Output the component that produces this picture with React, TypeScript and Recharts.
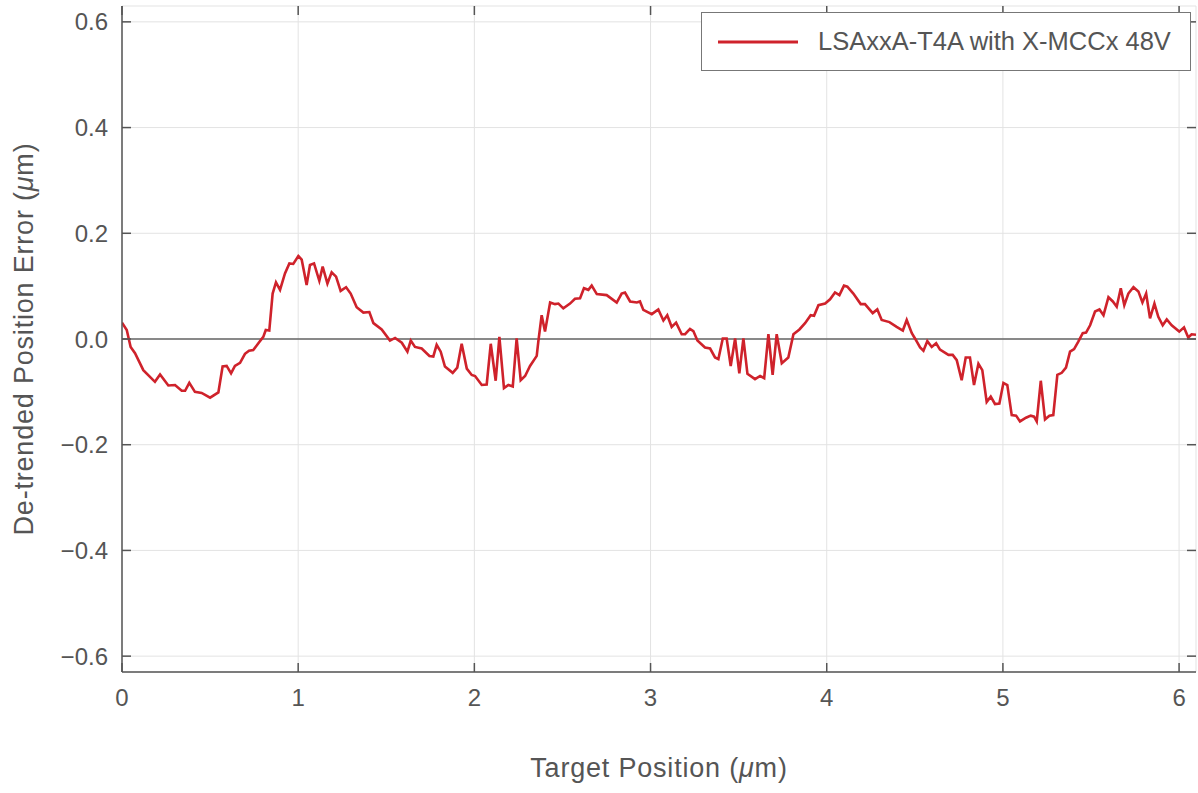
import React from 'react';
import { LineChart, Line, XAxis, YAxis, CartesianGrid, ReferenceLine, Legend, Label } from 'recharts';

const positions = [
  0, 0.027, 0.049, 0.074, 0.121, 0.187, 0.216, 0.263, 0.301, 0.339, 0.358, 0.382, 0.414, 0.452, 0.5,
  0.547, 0.571, 0.594, 0.619, 0.641, 0.67, 0.698, 0.721, 0.745, 0.774, 0.802, 0.816, 0.836, 0.855, 0.874,
  0.897, 0.925, 0.95, 0.972, 1.001, 1.02, 1.048, 1.067, 1.09, 1.12, 1.139, 1.166, 1.19, 1.215, 1.241,
  1.272, 1.298, 1.332, 1.37, 1.404, 1.427, 1.474, 1.521, 1.55, 1.588, 1.62, 1.639, 1.663, 1.701, 1.745,
  1.767, 1.786, 1.809, 1.833, 1.877, 1.903, 1.928, 1.957, 1.985, 2.004, 2.042, 2.07, 2.093, 2.121, 2.142,
  2.168, 2.193, 2.218, 2.24, 2.263, 2.288, 2.316, 2.354, 2.363, 2.382, 2.401, 2.43, 2.458, 2.477, 2.505,
  2.543, 2.571, 2.6, 2.622, 2.647, 2.666, 2.695, 2.751, 2.78, 2.808, 2.836, 2.855, 2.884, 2.922, 2.94,
  2.959, 3.007, 3.044, 3.073, 3.095, 3.12, 3.145, 3.177, 3.196, 3.224, 3.243, 3.266, 3.309, 3.338, 3.366,
  3.385, 3.41, 3.432, 3.455, 3.48, 3.504, 3.527, 3.55, 3.593, 3.622, 3.645, 3.669, 3.693, 3.716, 3.745,
  3.782, 3.811, 3.845, 3.877, 3.909, 3.928, 3.953, 3.991, 4.019, 4.047, 4.072, 4.098, 4.117, 4.151, 4.193,
  4.217, 4.261, 4.287, 4.312, 4.356, 4.397, 4.432, 4.454, 4.483, 4.501, 4.53, 4.549, 4.571, 4.596, 4.621,
  4.643, 4.691, 4.715, 4.738, 4.766, 4.789, 4.813, 4.836, 4.861, 4.883, 4.908, 4.931, 4.955, 4.98, 5.003,
  5.025, 5.05, 5.075, 5.097, 5.131, 5.158, 5.177, 5.192, 5.215, 5.239, 5.264, 5.286, 5.309, 5.334, 5.358,
  5.381, 5.404, 5.428, 5.453, 5.472, 5.495, 5.523, 5.548, 5.571, 5.599, 5.624, 5.646, 5.669, 5.689, 5.712,
  5.741, 5.769, 5.792, 5.813, 5.835, 5.86, 5.882, 5.907, 5.93, 5.958, 6.001, 6.028, 6.052, 6.071, 6.096,
];

const errors = [
  0.031, 0.017, -0.015, -0.027, -0.059, -0.081, -0.067, -0.088, -0.087, -0.098, -0.098, -0.083, -0.1, -0.102, -0.111,
  -0.101, -0.052, -0.051, -0.065, -0.051, -0.045, -0.028, -0.022, -0.021, -0.008, 0.004, 0.017, 0.016, 0.086, 0.107,
  0.093, 0.124, 0.143, 0.142, 0.157, 0.15, 0.102, 0.14, 0.143, 0.11, 0.137, 0.105, 0.126, 0.118, 0.091,
  0.098, 0.086, 0.06, 0.05, 0.051, 0.03, 0.018, -0.003, 0.002, -0.007, -0.024, -0.003, -0.015, -0.018, -0.032,
  -0.033, -0.011, -0.024, -0.052, -0.064, -0.054, -0.009, -0.056, -0.068, -0.07, -0.087, -0.086, -0.009, -0.079, 0.004,
  -0.093, -0.087, -0.09, 0.001, -0.078, -0.07, -0.051, -0.032, -0.005, 0.045, 0.014, 0.069, 0.066, 0.067, 0.058,
  0.067, 0.076, 0.077, 0.096, 0.093, 0.101, 0.085, 0.083, 0.076, 0.069, 0.086, 0.088, 0.071, 0.069, 0.071,
  0.055, 0.047, 0.056, 0.035, 0.045, 0.023, 0.031, 0.009, 0.009, 0.019, 0.015, -0.003, -0.016, -0.018, -0.035,
  -0.038, 0.001, 0.001, -0.051, 0.001, -0.065, 0.001, -0.066, -0.076, -0.07, -0.074, 0.009, -0.068, 0.009, -0.046,
  -0.035, 0.009, 0.018, 0.03, 0.045, 0.044, 0.064, 0.067, 0.075, 0.088, 0.083, 0.101, 0.099, 0.086, 0.066,
  0.066, 0.049, 0.056, 0.036, 0.032, 0.023, 0.016, 0.036, 0.011, 0.001, -0.016, -0.022, -0.004, -0.015, -0.008,
  -0.02, -0.03, -0.03, -0.04, -0.078, -0.035, -0.035, -0.087, -0.047, -0.059, -0.119, -0.109, -0.123, -0.122, -0.083,
  -0.087, -0.144, -0.145, -0.156, -0.149, -0.145, -0.147, -0.156, -0.079, -0.152, -0.145, -0.144, -0.068, -0.064, -0.054,
  -0.024, -0.019, -0.005, 0.011, 0.012, 0.026, 0.052, 0.056, 0.045, 0.079, 0.071, 0.061, 0.096, 0.064, 0.086,
  0.098, 0.09, 0.069, 0.086, 0.039, 0.067, 0.042, 0.026, 0.037, 0.026, 0.014, 0.022, 0.003, 0.009, 0.008,
];

const xTicks = [0, 1, 2, 3, 4, 5, 6];
const yTicks = [-0.6, -0.4, -0.2, 0, 0.2, 0.4, 0.6];
const seriesName = 'LSAxxA-T4A with X-MCCx 48V';
const xLabelText = 'Target Position (';
const yLabelText = 'De-trended Position Error (';
const unitMu = 'μ';
const unitRest = 'm)';

const data = positions.map((x, i) => ({ x, y: errors[i] }));

const W = 1198;
const H = 793;
const PL = 122;
const PR = 1196;
const PT = 6;
const PB = 672;
const AXIS = '#555555';
const TEXT = '#555555';
const RED = '#cf222b';
const FONT = '"Liberation Sans", Arial, sans-serif';
const TICK_LEN = 9;

const fmtY = (v: number) => {
  if (Math.abs(v) < 1e-9) return '0.0';
  return (v < 0 ? '\u2212' : '') + Math.abs(v).toFixed(1);
};

const XTick = (props: any) => {
  const { x, payload } = props;
  return (
    <g>
      <line x1={x} x2={x} y1={PB} y2={PB - TICK_LEN} stroke={AXIS} strokeWidth={1.5} />
      <line x1={x} x2={x} y1={PT} y2={PT + TICK_LEN} stroke={AXIS} strokeWidth={1.5} />
      <text x={x} y={PB + 34} textAnchor="middle" fontSize={24} fill={TEXT} fontFamily={FONT}>
        {payload.value}
      </text>
    </g>
  );
};

const YTick = (props: any) => {
  const { y, payload } = props;
  return (
    <g>
      <line x1={PL} x2={PL + TICK_LEN} y1={y} y2={y} stroke={AXIS} strokeWidth={1.5} />
      <line x1={PR} x2={PR - TICK_LEN} y1={y} y2={y} stroke={AXIS} strokeWidth={1.5} />
      <text x={PL - 14} y={y} dy="0.36em" textAnchor="end" fontSize={24} fill={TEXT} fontFamily={FONT}>
        {fmtY(payload.value)}
      </text>
    </g>
  );
};

const XLabel = () => (
  <text
    x={(PL + PR) / 2}
    y={767}
    dy="0.36em"
    textAnchor="middle"
    fontSize={27}
    letterSpacing={0.8}
    fill={TEXT}
    fontFamily={FONT}
  >
    {xLabelText}
    <tspan fontStyle="italic">{unitMu}</tspan>
    {unitRest}
  </text>
);

const YLabel = () => (
  <text
    x={23}
    y={339}
    dy="0.36em"
    textAnchor="middle"
    fontSize={27}
    letterSpacing={0.8}
    fill={TEXT}
    fontFamily={FONT}
    transform="rotate(-90 23 339)"
  >
    {yLabelText}
    <tspan fontStyle="italic">{unitMu}</tspan>
    {unitRest}
  </text>
);

const LegendBox = () => (
  <div
    style={{
      width: 490,
      height: 59,
      boxSizing: 'border-box',
      border: '1.5px solid #777777',
      background: '#ffffff',
      display: 'flex',
      alignItems: 'center',
      fontFamily: FONT,
    }}
  >
    <svg width={100} height={20} style={{ marginLeft: 16, flex: 'none' }}>
      <line x1={0} x2={80} y1={10} y2={10} stroke={RED} strokeWidth={3} />
    </svg>
    <span style={{ fontSize: 25.5, color: TEXT, whiteSpace: 'nowrap' }}>{seriesName}</span>
  </div>
);

export default function App() {
  return (
    <div style={{ position: 'absolute', left: 0, top: 0, width: W, height: H, background: '#ffffff' }}>
      <LineChart width={W} height={H} data={data} margin={{ top: PT, right: W - PR, left: 0, bottom: 0 }}>
        <CartesianGrid xAxisId="main" yAxisId="main" stroke="#e3e3e3" strokeWidth={1} />
        <XAxis
          xAxisId="main"
          dataKey="x"
          type="number"
          domain={[0, 6.096]}
          ticks={xTicks}
          allowDataOverflow
          height={H - PB}
          tickSize={0}
          tickLine={false}
          tick={<XTick />}
          axisLine={{ stroke: AXIS, strokeWidth: 1.5 }}
          interval={0}
        >
          <Label content={<XLabel />} />
        </XAxis>
        <XAxis
          xAxisId="top"
          orientation="top"
          type="number"
          domain={[0, 6.096]}
          height={0}
          tick={false}
          tickLine={false}
          axisLine={{ stroke: AXIS, strokeWidth: 1.5 }}
        />
        <YAxis
          yAxisId="main"
          type="number"
          domain={[-0.63, 0.63]}
          ticks={yTicks}
          allowDataOverflow
          width={PL}
          tickSize={0}
          tickLine={false}
          tick={<YTick />}
          axisLine={{ stroke: AXIS, strokeWidth: 1.5 }}
          interval={0}
        >
          <Label content={<YLabel />} />
        </YAxis>
        <YAxis
          yAxisId="right"
          orientation="right"
          type="number"
          domain={[-0.63, 0.63]}
          width={0}
          tick={false}
          tickLine={false}
          axisLine={{ stroke: AXIS, strokeWidth: 1.5 }}
        />
        <ReferenceLine xAxisId="main" yAxisId="main" y={0} stroke="#666666" strokeWidth={1.5} />
        <Line
          xAxisId="main"
          yAxisId="main"
          type="linear"
          dataKey="y"
          name={seriesName}
          stroke={RED}
          strokeWidth={2.6}
          dot={false}
          activeDot={false}
          isAnimationActive={false}
        />
        <Legend
          layout="horizontal"
          verticalAlign="middle"
          align="center"
          content={<LegendBox />}
          wrapperStyle={{ position: 'absolute', top: 12, left: 701, width: 490, height: 59 }}
        />
      </LineChart>
    </div>
  );
}
